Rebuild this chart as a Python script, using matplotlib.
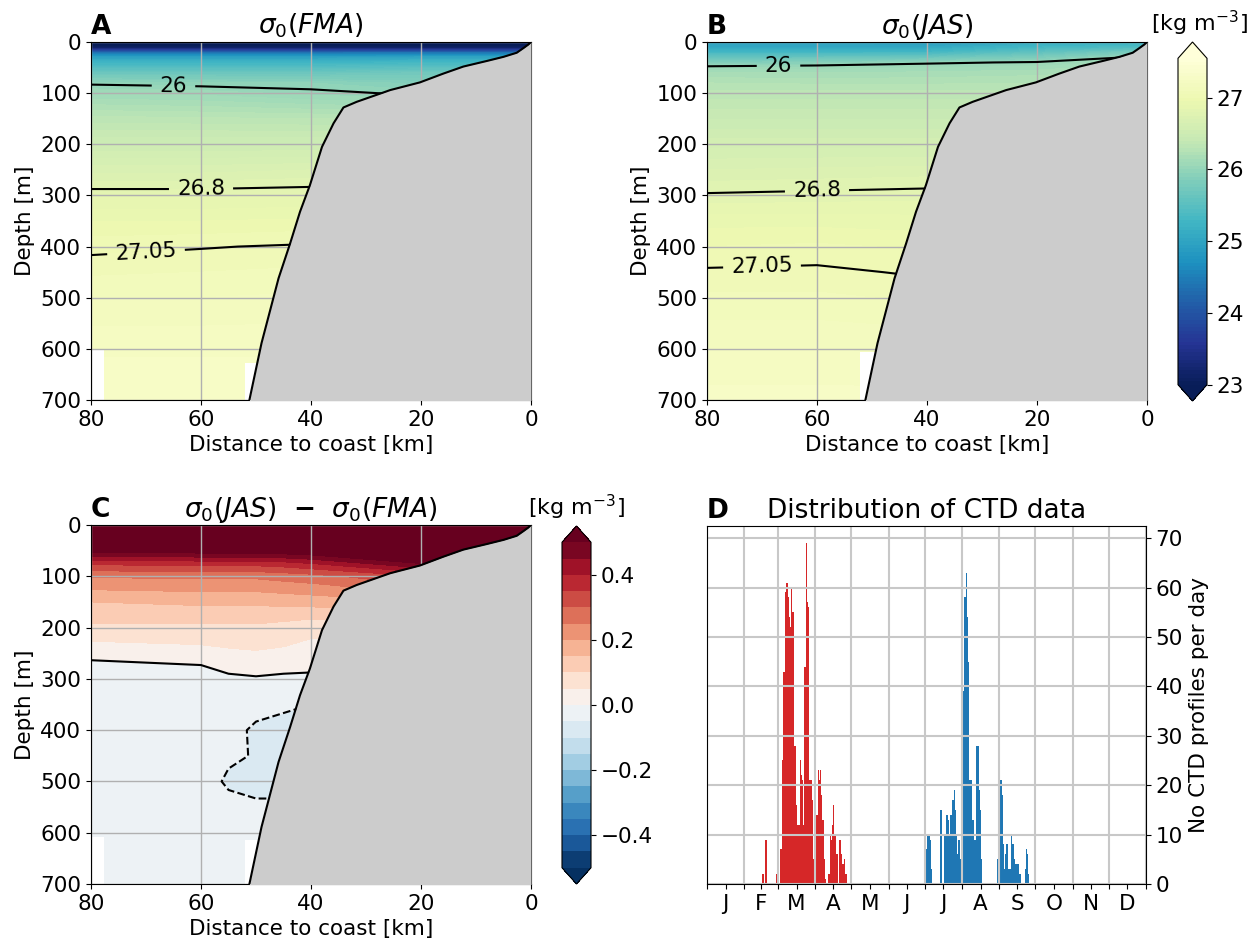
import numpy as np
import matplotlib
matplotlib.use('Agg')
import matplotlib.pyplot as plt

plt.rcParams['font.size'] = 15.5

# ---- section grid (distance to coast [km], depth [m]) ----
dist_ab = [0, 20, 40, 60, 80]
depth_ab = [0, 10, 20, 30, 40, 50, 60, 80, 100, 150, 200, 250, 300, 350, 400, 450, 500, 600, 700]

# sigma_0 Feb-Mar-Apr, one row per depth, columns = dist_ab
sigma_fma = [
    [22.90, 22.90, 22.90, 22.90, 22.90],
    [23.10, 23.10, 23.10, 23.10, 23.10],
    [24.30, 24.30, 24.30, 24.30, 24.30],
    [25.00, 25.00, 24.95, 24.95, 24.95],
    [25.30, 25.30, 25.25, 25.25, 25.25],
    [25.50, 25.50, 25.45, 25.45, 25.45],
    [25.70, 25.70, 25.65, 25.65, 25.65],
    [25.88, 25.88, 25.95, 25.96, 25.98],
    [25.98, 25.98, 26.03, 26.08, 26.10],
    [26.30, 26.30, 26.30, 26.31, 26.32],
    [26.50, 26.50, 26.50, 26.50, 26.50],
    [26.70, 26.70, 26.70, 26.68, 26.68],
    [26.85, 26.85, 26.85, 26.84, 26.84],
    [26.96, 26.96, 26.96, 26.95, 26.95],
    [27.06, 27.06, 27.06, 27.045, 27.03],
    [27.11, 27.11, 27.11, 27.10, 27.09],
    [27.16, 27.16, 27.16, 27.15, 27.15],
    [27.24, 27.24, 27.24, 27.24, 27.24],
    [27.30, 27.30, 27.30, 27.30, 27.30],
]

# sigma_0 Jul-Aug-Sep
sigma_jas = [
    [25.20, 25.10, 24.90, 24.95, 24.95],
    [25.40, 25.30, 25.05, 25.05, 25.05],
    [25.80, 25.55, 25.30, 25.30, 25.30],
    [26.05, 25.80, 25.65, 25.62, 25.60],
    [26.15, 26.02, 25.97, 25.90, 25.85],
    [26.20, 26.12, 26.10, 26.07, 26.05],
    [26.22, 26.18, 26.16, 26.15, 26.15],
    [26.26, 26.25, 26.24, 26.24, 26.25],
    [26.32, 26.32, 26.32, 26.32, 26.32],
    [26.45, 26.45, 26.45, 26.45, 26.45],
    [26.58, 26.58, 26.58, 26.58, 26.58],
    [26.72, 26.72, 26.72, 26.71, 26.70],
    [26.83, 26.83, 26.83, 26.82, 26.81],
    [26.92, 26.92, 26.92, 26.93, 26.93],
    [26.99, 26.99, 26.99, 27.01, 27.00],
    [27.04, 27.04, 27.04, 27.065, 27.06],
    [27.09, 27.09, 27.09, 27.11, 27.11],
    [27.19, 27.19, 27.19, 27.20, 27.20],
    [27.27, 27.27, 27.27, 27.27, 27.27],
]

# difference JAS - FMA
dist_c = [0, 20, 40, 45, 50, 55, 60, 80]
depth_c = [0, 25, 50, 75, 100, 150, 200, 250, 300, 350, 400, 450, 500, 550, 600, 700]
sigma_diff = [
    [2.00, 2.00, 1.90, 1.90, 1.90, 1.90, 1.90, 1.90],
    [1.60, 1.50, 1.20, 1.20, 1.20, 1.20, 1.20, 1.20],
    [0.90, 0.80, 0.55, 0.54, 0.53, 0.53, 0.53, 0.52],
    [0.60, 0.50, 0.40, 0.38, 0.37, 0.37, 0.37, 0.36],
    [0.40, 0.35, 0.28, 0.27, 0.26, 0.26, 0.26, 0.255],
    [0.20, 0.20, 0.17, 0.165, 0.16, 0.16, 0.16, 0.15],
    [0.065, 0.065, 0.065, 0.08, 0.09, 0.09, 0.09, 0.09],
    [0.03, 0.03, 0.03, 0.04, 0.045, 0.04, 0.03, 0.015],
    [-0.01, -0.01, -0.01, -0.01, -0.005, -0.01, -0.035, -0.04],
    [-0.05, -0.05, -0.05, -0.045, -0.04, -0.035, -0.035, -0.03],
    [-0.06, -0.06, -0.06, -0.06, -0.055, -0.04, -0.04, -0.03],
    [-0.06, -0.06, -0.06, -0.06, -0.052, -0.045, -0.04, -0.03],
    [-0.06, -0.06, -0.06, -0.06, -0.06, -0.055, -0.035, -0.03],
    [-0.04, -0.04, -0.04, -0.045, -0.045, -0.04, -0.03, -0.02],
    [-0.03, -0.03, -0.03, -0.03, -0.03, -0.03, -0.02, -0.02],
    [-0.02, -0.02, -0.02, -0.02, -0.02, -0.02, -0.01, -0.01],
]

# bottom topography
bathy_dist = [0, 0.5, 1.4, 2.6, 5, 8, 12.3, 16, 20.2, 25.6, 31.7, 34.1, 35.9, 38.0, 40.2, 42.0, 43.8, 45.9, 49.0, 51.2]
bathy_depth = [0, 5, 12, 21, 29, 37, 48, 62, 79, 94, 117, 128, 159, 205, 280, 332, 394, 462, 589, 700]

# no-data patches at the bottom of the section (distance range, top depth)
gap_fma_dist = [[77.6, 80.0], [49.0, 52.0]]
gap_fma_top = [600, 628]
gap_jas_dist = [[49.0, 52.1]]
gap_jas_top = [606]
gap_diff_dist = [[77.6, 80.0], [49.0, 52.0]]
gap_diff_top = [609, 615]

# CTD profiles per day of year
red_day = [46, 48, 49, 57, 58, 59, 61,
           62, 63, 64, 65, 66, 67, 68, 69, 70, 71, 72, 73, 74, 75, 76, 77, 78, 79, 80, 81, 82, 83, 84, 85, 86, 87, 88,
           91, 92, 93, 94, 95, 96, 97, 98,
           101, 102, 103, 104, 105, 106, 107, 108, 110, 111, 112, 113, 114, 115]
red_count = [2, 9, 9, 2, 5, 12, 7,
             25, 43, 43, 59, 61, 58, 54, 52, 60, 55, 28, 28, 16, 12, 12, 25, 22, 21, 12, 44, 69, 57, 56, 21, 21, 17, 5,
             14, 23, 21, 23, 18, 13, 5, 1,
             2, 10, 9, 12, 16, 10, 6, 6, 9, 6, 4, 4, 5, 2]
blue_day = [182, 183, 184, 185, 186, 194,
            197, 198, 199, 200, 201, 202, 203, 204, 205, 206, 207, 208, 209, 210,
            211, 212, 213, 214, 215, 216, 217, 218, 219, 220, 221, 222, 223, 224, 225, 226, 227, 228,
            241, 242, 243, 244, 245, 246, 247, 248, 249, 250, 251, 252, 253, 254, 255, 256, 257, 258, 259, 260,
            264, 265, 266, 267]
blue_count = [7, 10, 10, 9, 3, 15,
              10, 10, 14, 13, 10, 14, 14, 17, 19, 15, 10, 6, 9, 5,
              46, 25, 39, 58, 63, 54, 45, 21, 21, 13, 13, 9, 9, 28, 28, 19, 15, 5,
              5, 1, 11, 21, 18, 8, 3, 6, 8, 3, 3, 3, 10, 8, 5, 4, 4, 4, 2, 2,
              3, 7, 6, 2]

month_start = [0, 31, 59, 90, 120, 151, 181, 212, 243, 273, 304, 334, 365]
month_label = ['J', 'F', 'M', 'A', 'M', 'J', 'J', 'A', 'S', 'O', 'N', 'D']

W, H = 1253, 947
TITLE = 19
fig = plt.figure(figsize=(W / 100, H / 100), dpi=100)


def px_axes(left, top, right, bottom):
    return fig.add_axes([left / W, (H - bottom) / H, (right - left) / W, (bottom - top) / H])


def section(ax, dist, depth, field, levels, cmap, gaps, gap_top):
    cf = ax.contourf(dist, depth, np.array(field), levels=levels, cmap=cmap, extend='both', zorder=0.5)
    for (x0, x1), top in zip(gaps, gap_top):
        ax.fill_between([x0, x1], top, 710, color='white', lw=0, zorder=0.8)
    ax.fill_between(bathy_dist, bathy_depth, 710, color='#cccccc', lw=0, zorder=3)
    ax.plot(bathy_dist, bathy_depth, color='k', lw=1.5, zorder=3.5)
    ax.set_xlim(80, 0)
    ax.set_ylim(700, 0)
    ax.set_xticks([80, 60, 40, 20, 0])
    ax.set_yticks(range(0, 701, 100))
    ax.grid(True, color='#b0b0b0', lw=1.0)
    ax.set_xlabel('Distance to coast [km]')
    ax.set_ylabel('Depth [m]')
    return cf


sig_levels = np.linspace(23, 27.55, 92)
diff_levels = np.linspace(-0.5, 0.5, 21)

# A
axA = px_axes(91, 42, 531, 400)
section(axA, dist_ab, depth_ab, sigma_fma, sig_levels, 'YlGnBu_r', gap_fma_dist, gap_fma_top)
cs = axA.contour(dist_ab, depth_ab, np.array(sigma_fma), levels=[26, 26.8, 27.05], colors='k', linewidths=1.5, zorder=2)
axA.clabel(cs, fmt='%g', fontsize=15.5, manual=[(65, 84), (60, 286), (70, 410)], inline_spacing=8)
axA.set_title(r'$\sigma_0(FMA)$', fontsize=TITLE)
axA.set_title('A', loc='left', fontweight='bold', fontsize=TITLE)

# B
axB = px_axes(707, 42, 1147, 400)
cfB = section(axB, dist_ab, depth_ab, sigma_jas, sig_levels, 'YlGnBu_r', gap_jas_dist, gap_jas_top)
cs = axB.contour(dist_ab, depth_ab, np.array(sigma_jas), levels=[26, 26.8, 27.05], colors='k', linewidths=1.5, zorder=2)
axB.clabel(cs, fmt='%g', fontsize=15.5, manual=[(67, 46), (60, 291), (70, 438)], inline_spacing=8)
axB.set_title(r'$\sigma_0(JAS)$', fontsize=TITLE)
axB.set_title('B', loc='left', fontweight='bold', fontsize=TITLE)

caxB = px_axes(1178, 42, 1207, 401)
cbB = fig.colorbar(cfB, cax=caxB, ticks=[23, 24, 25, 26, 27])
caxB.set_title('[kg m$^{-3}$]', fontsize=16, pad=8, x=0.75)

# C
axC = px_axes(91, 525, 531, 884)
cfC = section(axC, dist_c, depth_c, sigma_diff, diff_levels, 'RdBu_r', gap_diff_dist, gap_diff_top)
axC.contour(dist_c, depth_c, np.array(sigma_diff), levels=[-0.05, 0], colors='k', linewidths=1.5, zorder=2)
axC.set_title(r'$\sigma_0(JAS)$  $\mathbf{-}$  $\sigma_0(FMA)$', fontsize=TITLE)
axC.set_title('C', loc='left', fontweight='bold', fontsize=TITLE)

caxC = px_axes(562, 526, 591, 884)
cbC = fig.colorbar(cfC, cax=caxC, ticks=[-0.4, -0.2, 0.0, 0.2, 0.4])
caxC.set_title('[kg m$^{-3}$]', fontsize=16, pad=8)

# D
axD = px_axes(707, 526, 1146, 884)
axD.bar(red_day, red_count, width=1, align='edge', color='tab:red')
axD.bar(blue_day, blue_count, width=1, align='edge', color='tab:blue')
axD.set_xlim(0, 365)
axD.set_xticks(month_start)
axD.set_xticklabels([])
axD.set_xticks([(a + b) / 2 for a, b in zip(month_start[:-1], month_start[1:])], minor=True)
axD.set_xticklabels(month_label, minor=True)
axD.tick_params(axis='x', which='minor', length=3.5, width=0.8)
axD.yaxis.tick_right()
axD.yaxis.set_label_position('right')
axD.set_yticks(range(0, 71, 10))
axD.grid(True, which='major', color='#c8c8c8', lw=1.5)
axD.set_ylabel('No CTD profiles per day')
axD.set_title('Distribution of CTD data', fontsize=TITLE)
axD.set_title('D', loc='left', fontweight='bold', fontsize=TITLE)

fig.savefig('out.png', dpi=100)
